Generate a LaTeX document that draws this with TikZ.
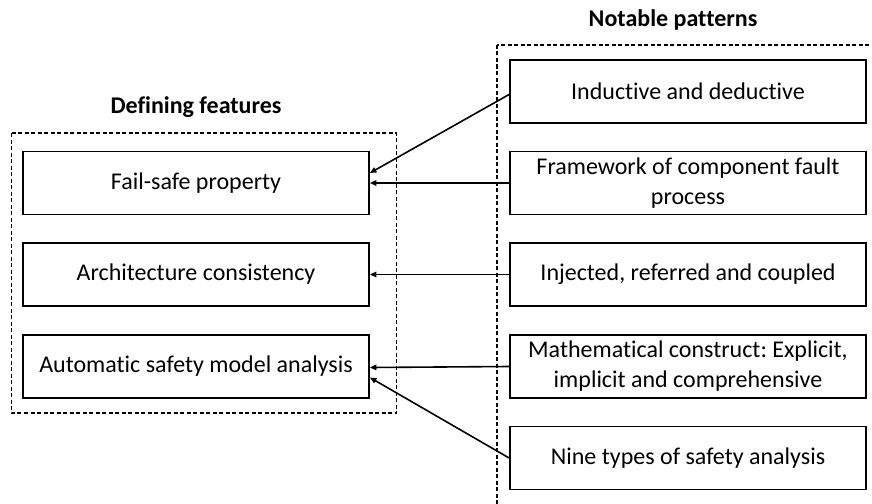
\documentclass[tikz,border=0pt]{standalone}
\usepackage{fontspec}
\setmainfont{Carlito}[Ligatures=NoCommon]
\usetikzlibrary{arrows.meta}
\frenchspacing
\begin{document}
\begin{tikzpicture}[x=1pt,y=-1pt,
  item/.style={draw, line width=1.8pt, minimum height=63pt, align=center,
    inner sep=0pt, font=\fontsize{24}{30}\selectfont},
  leftitem/.style={item, minimum width=346pt},
  rightitem/.style={item, minimum width=356pt},
  group/.style={draw, line width=1.5pt, dash pattern=on 4pt off 2.5pt},
  heading/.style={font=\bfseries\fontsize{24}{30}\selectfont},
  link/.style={line width=1.6pt, -{Triangle[length=6.5pt,width=5.5pt]}}
]
\useasboundingbox (0,0) rectangle (872,503);
\clip (0,0) rectangle (872,503);

% group frames
\draw[group] (11.5,133) rectangle (396.5,413);
\draw[group] (497,45) rectangle (900,530);

% headings
\node[heading] (hleft) at (196,107) {Defining features};
\node[heading] (hright) at (673,20) {Notable patterns};

% defining features
\node[leftitem] (fs)   at (196,183)   {Fail-safe property};
\node[leftitem] (arch) at (196,274.5) {Architecture consistency};
\node[leftitem] (auto) at (196,366.5) {Automatic safety model analysis};

% notable patterns
\node[rightitem] (ind)  at (688,91.5)  {Inductive and deductive};
\node[rightitem] (fw)   at (688,183)   {Framework of component fault\\process};
\node[rightitem] (inj)  at (688,274.5) {Injected, referred and coupled};
\node[rightitem] (math) at (688,366.5) {Mathematical construct: Explicit,\\implicit and comprehensive};
\node[rightitem] (nine) at (688,458)   {Nine types of safety analysis};

% connectors
\draw[link] ([yshift=-3pt]ind.west) -- ([yshift=10pt]fs.east);
\draw[link] (fw.west) -- (fs.east);
\draw[link] (inj.west) -- (arch.east);
\draw[link] (math.west) -- ([yshift=-1pt]auto.east);
\draw[link] (nine.west) -- ([yshift=-11pt]auto.east);
\end{tikzpicture}
\end{document}
